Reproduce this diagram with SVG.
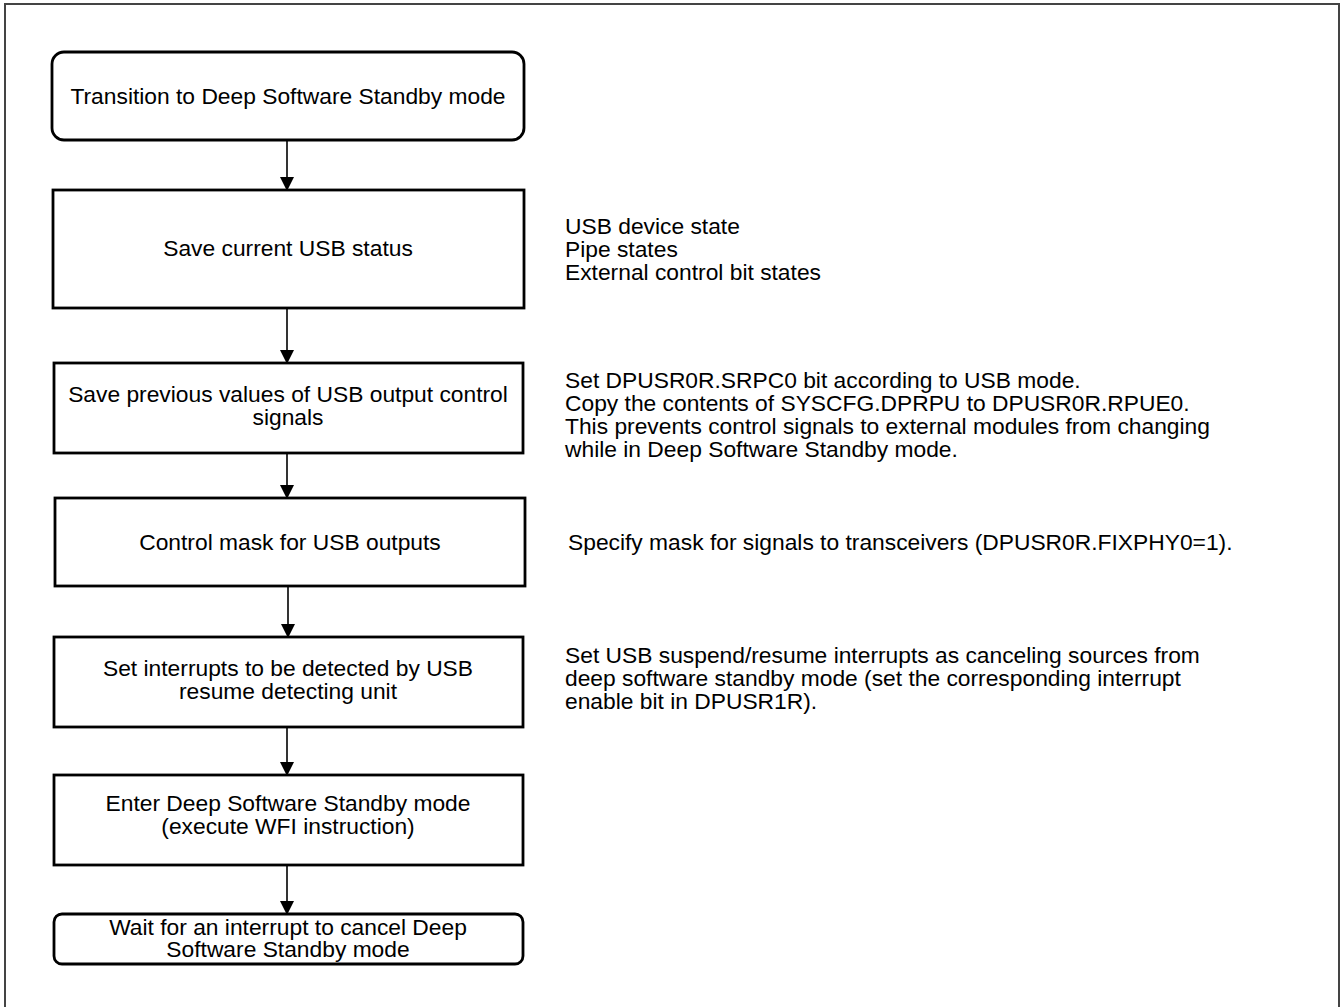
<svg xmlns="http://www.w3.org/2000/svg" width="1343" height="1007" viewBox="0 0 1343 1007">
<style>
.box{fill:#fff;stroke:#000;stroke-width:2.8}
.t{font-family:"Liberation Sans",Arial,sans-serif;font-size:22.8px;fill:#000;text-anchor:middle}
.n{font-family:"Liberation Sans",Arial,sans-serif;font-size:22.8px;fill:#000}
.c{stroke:#000;stroke-width:1.6;fill:none;marker-end:url(#ah)}
</style>
<defs>
<marker id="ah" markerWidth="14" markerHeight="14" refX="13" refY="7" orient="auto" markerUnits="userSpaceOnUse">
<path d="M0,0 L14,7 L0,14 Z" fill="#000"/>
</marker>
</defs>
<rect x="0" y="0" width="1343" height="1007" fill="#fff"/>
<rect x="5" y="4" width="1334" height="1020" fill="none" stroke="#444" stroke-width="2"/>
<g id="connectors">
<line class="c" x1="287" y1="140" x2="287" y2="190"/>
<line class="c" x1="287" y1="308" x2="287" y2="363"/>
<line class="c" x1="287" y1="453" x2="287" y2="498"/>
<line class="c" x1="288" y1="586" x2="288" y2="637"/>
<line class="c" x1="287" y1="727" x2="287" y2="775"/>
<line class="c" x1="287" y1="865" x2="287" y2="914"/>
</g>
<g id="n1">
<rect class="box" x="52" y="52" width="472" height="88" rx="12"/>
<text class="t" x="288" y="104">Transition to Deep Software Standby mode</text>
</g>
<g id="n2">
<rect class="box" x="53" y="190" width="471" height="118"/>
<text class="t" x="288" y="256">Save current USB status</text>
</g>
<g id="n3">
<rect class="box" x="54" y="363" width="469" height="90"/>
<text class="t" x="288" y="402">Save previous values of USB output control</text>
<text class="t" x="288" y="425">signals</text>
</g>
<g id="n4">
<rect class="box" x="55" y="498" width="470" height="88"/>
<text class="t" x="290" y="550">Control mask for USB outputs</text>
</g>
<g id="n5">
<rect class="box" x="54" y="637" width="469" height="90"/>
<text class="t" x="288" y="676">Set interrupts to be detected by USB</text>
<text class="t" x="288" y="699">resume detecting unit</text>
</g>
<g id="n6">
<rect class="box" x="54" y="775" width="469" height="90"/>
<text class="t" x="288" y="811">Enter Deep Software Standby mode</text>
<text class="t" x="288" y="834">(execute WFI instruction)</text>
</g>
<g id="n7">
<rect class="box" x="54" y="914" width="469" height="50" rx="8"/>
<text class="t" x="288" y="935">Wait for an interrupt to cancel Deep</text>
<text class="t" x="288" y="957">Software Standby mode</text>
</g>
<g id="notes">
<text class="n" x="565" y="234">USB device state</text>
<text class="n" x="565" y="257">Pipe states</text>
<text class="n" x="565" y="280">External control bit states</text>
<text class="n" x="565" y="388">Set DPUSR0R.SRPC0 bit according to USB mode.</text>
<text class="n" x="565" y="411">Copy the contents of SYSCFG.DPRPU to DPUSR0R.RPUE0.</text>
<text class="n" x="565" y="434">This prevents control signals to external modules from changing</text>
<text class="n" x="565" y="457">while in Deep Software Standby mode.</text>
<text class="n" x="568" y="550">Specify mask for signals to transceivers (DPUSR0R.FIXPHY0=1).</text>
<text class="n" x="565" y="663">Set USB suspend/resume interrupts as canceling sources from</text>
<text class="n" x="565" y="686">deep software standby mode (set the corresponding interrupt</text>
<text class="n" x="565" y="709">enable bit in DPUSR1R).</text>
</g>
</svg>
